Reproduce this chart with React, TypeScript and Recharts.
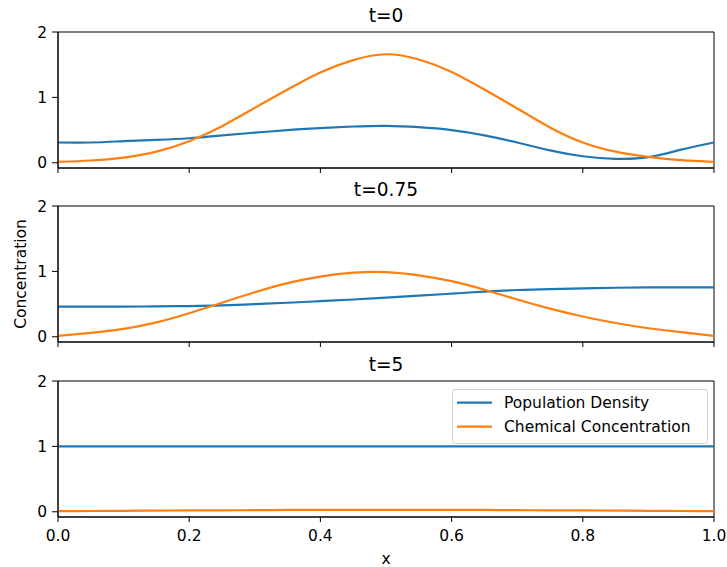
import React from 'react';
import { LineChart, Line, XAxis, YAxis, ReferenceArea } from 'recharts';

// sample positions along x
const xs = [0, 0.05, 0.1, 0.15, 0.2, 0.25, 0.3, 0.35, 0.4, 0.45, 0.5, 0.55, 0.6, 0.65, 0.7, 0.75, 0.8, 0.85, 0.9, 0.95, 1];

// t = 0
const pop0 = [0.31, 0.31, 0.33, 0.35, 0.375, 0.42, 0.46, 0.5, 0.53, 0.555, 0.565, 0.545, 0.5, 0.42, 0.31, 0.19, 0.1, 0.06, 0.085, 0.2, 0.31];
const chem0 = [0.015, 0.035, 0.08, 0.17, 0.33, 0.56, 0.84, 1.12, 1.38, 1.57, 1.66, 1.58, 1.39, 1.12, 0.83, 0.54, 0.31, 0.17, 0.09, 0.04, 0.015];

// t = 0.75
const pop075 = [0.46, 0.46, 0.46, 0.465, 0.47, 0.48, 0.5, 0.52, 0.545, 0.57, 0.6, 0.63, 0.66, 0.69, 0.715, 0.73, 0.74, 0.75, 0.755, 0.755, 0.755];
const chem075 = [0.015, 0.06, 0.12, 0.22, 0.36, 0.52, 0.68, 0.82, 0.92, 0.98, 0.99, 0.94, 0.85, 0.72, 0.57, 0.43, 0.31, 0.21, 0.13, 0.07, 0.015];

// t = 5
const pop5 = [1, 1, 1, 1, 1, 1, 1, 1, 1, 1, 1, 1, 1, 1, 1, 1, 1, 1, 1, 1, 1];
const chem5 = [0.01, 0.012, 0.015, 0.018, 0.02, 0.022, 0.025, 0.028, 0.03, 0.03, 0.03, 0.03, 0.03, 0.028, 0.025, 0.022, 0.02, 0.018, 0.015, 0.012, 0.01];

const titles = ['t=0', 't=0.75', 't=5'];
const xTicks = [0, 0.2, 0.4, 0.6, 0.8, 1];
const yTicks = [0, 1, 2];
const seriesNames = ['Population Density', 'Chemical Concentration'];

const BLUE = '#1f77b4';
const ORANGE = '#ff7f0e';
const FONT = "'DejaVu Sans', sans-serif";
const Y_DOMAIN: [number, number] = [-0.08, 2];

const toRows = (pop: number[], chem: number[]) => xs.map((x, i) => ({ x, pop: pop[i], chem: chem[i] }));

const panels = [
  { title: titles[0], data: toRows(pop0, chem0), top: 32 },
  { title: titles[1], data: toRows(pop075, chem075), top: 206 },
  { title: titles[2], data: toRows(pop5, chem5), top: 381 },
];

const PLOT_H = 136;

const Panel = ({ data, top, labels }: { data: any[]; top: number; labels: boolean }) => (
  <div style={{ position: 'absolute', left: 0, top: top - 10 }}>
    <LineChart width={727} height={10 + PLOT_H + 32} data={data} margin={{ top: 10, right: 13, left: 0, bottom: 0 }}>
      <XAxis
        type="number"
        dataKey="x"
        domain={[0, 1]}
        ticks={xTicks}
        interval={0}
        height={32}
        tickSize={5}
        tickMargin={8}
        tickFormatter={(v: number) => (labels ? v.toFixed(1) : '')}
        tick={{ fill: '#000', fontSize: 15.5, fontFamily: FONT }}
        axisLine={{ stroke: '#000' }}
        tickLine={{ stroke: '#000' }}
      />
      <YAxis
        type="number"
        domain={Y_DOMAIN}
        allowDataOverflow
        ticks={yTicks}
        interval={0}
        width={58}
        tickSize={6}
        tickMargin={5}
        tick={{ fill: '#000', fontSize: 15.5, fontFamily: FONT }}
        axisLine={{ stroke: '#000' }}
        tickLine={{ stroke: '#000' }}
      />
      {/* axes frame */}
      <ReferenceArea x1={0} x2={1} y1={Y_DOMAIN[0]} y2={Y_DOMAIN[1]} fill="none" stroke="#000" strokeWidth={1} ifOverflow="visible" />
      <Line type="natural" dataKey="pop" name={seriesNames[0]} stroke={BLUE} strokeWidth={2.2} dot={false} isAnimationActive={false} />
      <Line type="natural" dataKey="chem" name={seriesNames[1]} stroke={ORANGE} strokeWidth={2.2} dot={false} isAnimationActive={false} />
    </LineChart>
  </div>
);

export default function App() {
  return (
    <div style={{ position: 'absolute', left: 0, top: 0, width: 727, height: 567, background: '#fff', fontFamily: FONT }}>
      {panels.map((p, i) => (
        <Panel key={p.title} data={p.data} top={p.top} labels={i === panels.length - 1} />
      ))}
      <svg width={727} height={567} style={{ position: 'absolute', left: 0, top: 0, pointerEvents: 'none' }}>
        {panels.map((p) => (
          <text key={p.title} x={386} y={p.top - 10.5} textAnchor="middle" fontSize={18.6} fontFamily={FONT} fill="#000">
            {p.title}
          </text>
        ))}
        <text x={25.5} y={274} transform="rotate(-90, 25.5, 274)" textAnchor="middle" fontSize={15.5} fontFamily={FONT} fill="#000">
          Concentration
        </text>
        <text x={386} y={564} textAnchor="middle" fontSize={15.5} fontFamily={FONT} fill="#000">
          x
        </text>
        {/* legend, bottom panel */}
        <rect x={452.5} y={389.5} width={255} height={54} rx={3} fill="#fff" fillOpacity={0.8} stroke="#d0d0d0" />
        <line x1={457} x2={492} y1={402.7} y2={402.7} stroke={BLUE} strokeWidth={2.2} />
        <line x1={457} x2={492} y1={426.7} y2={426.7} stroke={ORANGE} strokeWidth={2.2} />
        <text x={504} y={402.7} dy="0.355em" fontSize={15.5} fontFamily={FONT} fill="#000">
          {seriesNames[0]}
        </text>
        <text x={504} y={426.7} dy="0.355em" fontSize={15.5} fontFamily={FONT} fill="#000">
          {seriesNames[1]}
        </text>
      </svg>
    </div>
  );
}
